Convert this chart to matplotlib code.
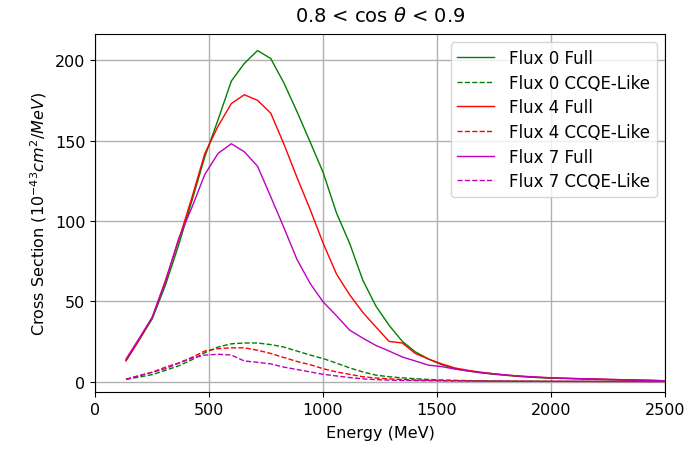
import matplotlib
matplotlib.use("Agg")
import matplotlib.pyplot as plt

energy = [136, 194, 251, 309, 367, 424, 482, 540, 598, 655, 713, 771, 828, 886, 944,
          1001, 1059, 1117, 1175, 1232, 1290, 1348, 1405, 1463, 1521, 1578, 1636, 1694,
          1752, 1809, 1867, 1925, 1982, 2040, 2098, 2155, 2213, 2271, 2328, 2386, 2444, 2500]

flux0_full = [13, 26, 39, 60, 85, 112, 140, 163, 187, 198, 206, 201, 186, 168, 149,
              130, 105, 86, 63, 47, 35, 25, 18.5, 14, 10.5, 8, 6.6, 5.4,
              4.5, 3.8, 3.1, 2.6, 2.2, 2.0, 1.8, 1.5, 1.3, 1.1, 1.0, 0.8, 0.7, 0.5]
flux0_ccqe = [1.4, 2.8, 4.3, 7, 9.8, 13.5, 18, 21.5, 23.5, 24, 24, 23, 21.5, 19, 16.5,
              14.3, 11.5, 8.5, 6, 4, 3, 2.3, 1.8, 1.3, 1.0, 0.8, 0.6, 0.5,
              0.4, 0.35, 0.3, 0.25, 0.2, 0.2, 0.15, 0.15, 0.1, 0.1, 0.1, 0.1, 0.05, 0.05]
flux4_full = [13, 26, 40, 63, 88, 114, 142, 159, 173, 178.5, 175, 167, 148, 127, 107,
              86, 67, 54, 43, 34, 25, 24, 17.5, 14, 11, 8.5, 7, 5.8,
              4.8, 4.0, 3.3, 2.8, 2.4, 2.1, 1.9, 1.7, 1.5, 1.3, 1.1, 0.9, 0.7, 0.5]
flux4_ccqe = [1.4, 3.5, 5.8, 9, 11.5, 15, 19, 20.5, 21, 21, 19.5, 17.5, 15, 12.5, 10.5,
              8, 6, 4.5, 3, 2.2, 1.7, 1.3, 1.0, 0.8, 0.6, 0.5, 0.4, 0.35,
              0.3, 0.25, 0.2, 0.2, 0.15, 0.15, 0.1, 0.1, 0.1, 0.1, 0.05, 0.05, 0.05, 0.05]
flux7_full = [14, 27, 40, 62, 89, 108, 129, 142, 148, 143, 134, 115, 96, 76, 61,
              49.5, 41, 32, 27, 22.5, 19, 15.3, 12.8, 10.2, 9.3, 7.8, 6.6, 5.6,
              4.8, 4.0, 3.4, 2.9, 2.5, 2.2, 1.9, 1.7, 1.5, 1.3, 1.1, 0.9, 0.7, 0.5]
flux7_ccqe = [1.4, 3.8, 5.8, 8, 11.5, 14.5, 16.5, 17, 16.5, 12.8, 12, 11, 9, 7.5, 6,
              4.5, 3.5, 2.5, 1.7, 1.2, 0.9, 0.7, 0.6, 0.5, 0.4, 0.35, 0.3, 0.25,
              0.2, 0.2, 0.15, 0.15, 0.1, 0.1, 0.1, 0.1, 0.05, 0.05, 0.05, 0.05, 0.05, 0.05]

series = [
    ("Flux 0 Full", flux0_full, "g", "-"),
    ("Flux 0 CCQE-Like", flux0_ccqe, "g", "--"),
    ("Flux 4 Full", flux4_full, "r", "-"),
    ("Flux 4 CCQE-Like", flux4_ccqe, "r", "--"),
    ("Flux 7 Full", flux7_full, "m", "-"),
    ("Flux 7 CCQE-Like", flux7_ccqe, "m", "--"),
]

plt.rcParams["font.family"] = ["DejaVu Sans"]
plt.rcParams["font.size"] = 11.5

fig = plt.figure(figsize=(6.97, 4.52), dpi=100)
ax = fig.add_axes([0.1363, 0.1305, 0.954 - 0.1363, 0.9226 - 0.1305])
for label, vals, col, ls in series:
    ax.plot(energy, vals, color=col, linestyle=ls, linewidth=1.0, label=label)

ax.set_xlim(0, 2500)
ax.set_ylim(-6.5, 216.3)
ax.set_xticks([0, 500, 1000, 1500, 2000, 2500])
ax.set_yticks([0, 50, 100, 150, 200])
ax.grid(True, color="#b0b0b0", linewidth=1.0)
ax.set_axisbelow(True)
ax.set_xlabel("Energy (MeV)", labelpad=6)
ax.set_ylabel(r"Cross Section ($10^{-43} cm^2/MeV$)")
ax.set_title(r"0.8 < cos $\theta$ < 0.9", fontsize=14, pad=9)
ax.legend(loc="upper right", fontsize=12, labelspacing=0.4, handlelength=2.2,
          handletextpad=0.9)

fig.savefig("out.png", dpi=100)
